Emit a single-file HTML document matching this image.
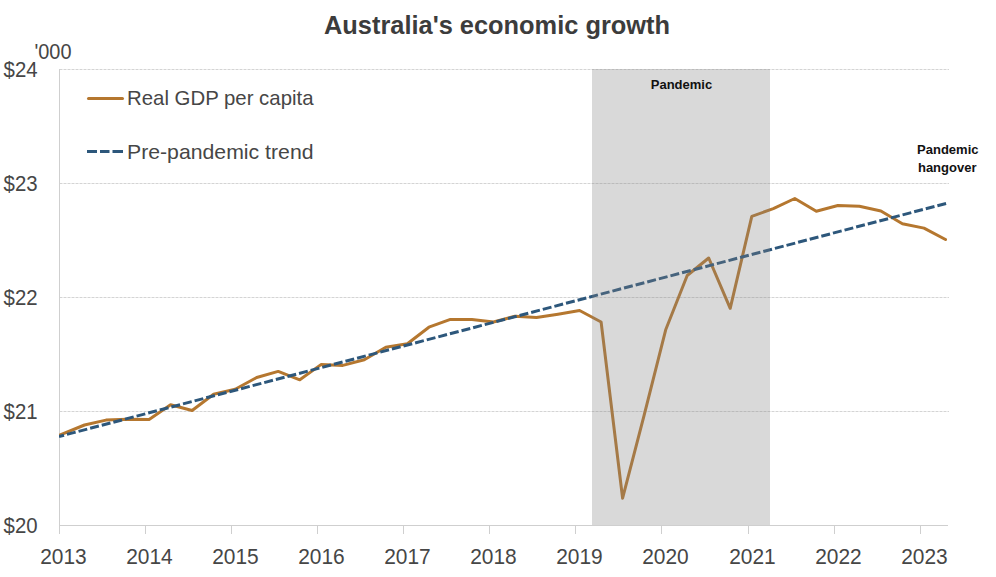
<!DOCTYPE html>
<html><head><meta charset="utf-8"><title>Australia's economic growth</title>
<style>
html,body{margin:0;padding:0;background:#fff;}
svg{display:block;}
text{font-family:'Liberation Sans', Arial, sans-serif;}
</style></head>
<body>
<svg width="996" height="577" viewBox="0 0 996 577" xmlns="http://www.w3.org/2000/svg">
<defs><clipPath id="pa"><rect x="59" y="60" width="888" height="470"/></clipPath></defs>
<rect width="996" height="577" fill="#fff"/>
<g stroke="rgba(0,0,0,0.17)" stroke-width="1" stroke-dasharray="3 1" fill="none"><line x1="59.5" x2="949" y1="69.5" y2="69.5"/><line x1="59.5" x2="949" y1="183.5" y2="183.5"/><line x1="59.5" x2="949" y1="297.5" y2="297.5"/><line x1="59.5" x2="949" y1="411.5" y2="411.5"/></g>
<g stroke="#CFCFCF" stroke-width="1" fill="none">
<line x1="59.5" x2="59.5" y1="69" y2="534"/>
<line x1="59" x2="948" y1="525.5" y2="525.5"/>
<line x1="59.5" x2="59.5" y1="525" y2="534"/><line x1="145.5" x2="145.5" y1="525" y2="534"/><line x1="231.5" x2="231.5" y1="525" y2="534"/><line x1="317.5" x2="317.5" y1="525" y2="534"/><line x1="403.5" x2="403.5" y1="525" y2="534"/><line x1="489.5" x2="489.5" y1="525" y2="534"/><line x1="575.5" x2="575.5" y1="525" y2="534"/><line x1="661.5" x2="661.5" y1="525" y2="534"/><line x1="748.5" x2="748.5" y1="525" y2="534"/><line x1="834.5" x2="834.5" y1="525" y2="534"/><line x1="920.5" x2="920.5" y1="525" y2="534"/>
</g>
<g clip-path="url(#pa)">
<path d="M50.0,438.9 L84.5,425.0 L106.0,420.1 L127.5,419.2 L149.1,419.5 L170.6,404.7 L192.1,410.5 L213.6,394.2 L235.2,389.3 L256.7,377.5 L278.2,371.4 L299.8,379.8 L321.3,364.4 L342.8,365.4 L364.3,359.8 L385.8,347.3 L407.4,343.7 L428.9,327.2 L450.4,319.4 L471.9,319.4 L493.5,322.0 L515.0,316.3 L536.5,317.4 L558.0,314.2 L579.6,310.5 L601.1,322.0 L622.6,498.2 L644.1,415.4 L665.7,329.8 L687.2,275.5 L708.7,258.0 L730.2,308.3 L751.8,216.4 L773.3,208.6 L794.8,198.5 L816.3,211.3 L837.9,205.5 L859.4,206.3 L880.9,211.0 L902.4,223.7 L924.0,228.1 L945.5,239.5" fill="none" stroke="#B5772F" stroke-width="3" stroke-linejoin="round" stroke-linecap="round"/>
<line x1="59" y1="436.5" x2="947" y2="203.2" stroke="#2D577B" stroke-width="3" stroke-dasharray="9 3" stroke-dashoffset="3.8"/>
</g>
<rect x="592" y="69" width="178" height="456" fill="#808080" fill-opacity="0.3"/>
<text x="324" y="34" font-size="25" font-weight="bold" fill="#3C3C3C" textLength="346" lengthAdjust="spacingAndGlyphs">Australia's economic growth</text>
<g font-size="21" fill="#464646">
<text x="34.5" y="58.9" font-size="21.6" textLength="37" lengthAdjust="spacingAndGlyphs">'000</text>
<g font-size="22"><text x="3.6" y="533" textLength="34" lengthAdjust="spacingAndGlyphs">$20</text><text x="3.6" y="419" textLength="34" lengthAdjust="spacingAndGlyphs">$21</text><text x="3.6" y="305" textLength="34" lengthAdjust="spacingAndGlyphs">$22</text><text x="3.6" y="191" textLength="34" lengthAdjust="spacingAndGlyphs">$23</text><text x="3.6" y="77" textLength="34" lengthAdjust="spacingAndGlyphs">$24</text></g>
<g font-size="22"><text x="40.2" y="564" textLength="46.5" lengthAdjust="spacingAndGlyphs">2013</text><text x="126.2" y="564" textLength="46.5" lengthAdjust="spacingAndGlyphs">2014</text><text x="212.2" y="564" textLength="46.5" lengthAdjust="spacingAndGlyphs">2015</text><text x="298.2" y="564" textLength="46.5" lengthAdjust="spacingAndGlyphs">2016</text><text x="384.2" y="564" textLength="46.5" lengthAdjust="spacingAndGlyphs">2017</text><text x="470.2" y="564" textLength="46.5" lengthAdjust="spacingAndGlyphs">2018</text><text x="556.2" y="564" textLength="46.5" lengthAdjust="spacingAndGlyphs">2019</text><text x="642.2" y="564" textLength="46.5" lengthAdjust="spacingAndGlyphs">2020</text><text x="729.2" y="564" textLength="46.5" lengthAdjust="spacingAndGlyphs">2021</text><text x="815.2" y="564" textLength="46.5" lengthAdjust="spacingAndGlyphs">2022</text><text x="901.2" y="564" textLength="46.5" lengthAdjust="spacingAndGlyphs">2023</text></g>
<text x="127" y="104.9" font-size="20.9" textLength="186.5" lengthAdjust="spacingAndGlyphs">Real GDP per capita</text>
<text x="127" y="158.8" font-size="20.9" textLength="186.5" lengthAdjust="spacingAndGlyphs">Pre-pandemic trend</text>
</g>
<line x1="88.5" y1="98.5" x2="122.5" y2="98.5" stroke="#B5772F" stroke-width="3" stroke-linecap="round"/>
<g fill="#2D577B"><rect x="87" y="150" width="10" height="3"/><rect x="100" y="150" width="9.5" height="3"/><rect x="112.5" y="150" width="10.5" height="3"/></g>
<g font-size="13" font-weight="bold" fill="#111" text-anchor="middle">
<text x="681.5" y="88.6">Pandemic</text>
<text x="947.8" y="153.8">Pandemic</text>
<text x="947.2" y="171.9">hangover</text>
</g>
</svg>
</body></html>
